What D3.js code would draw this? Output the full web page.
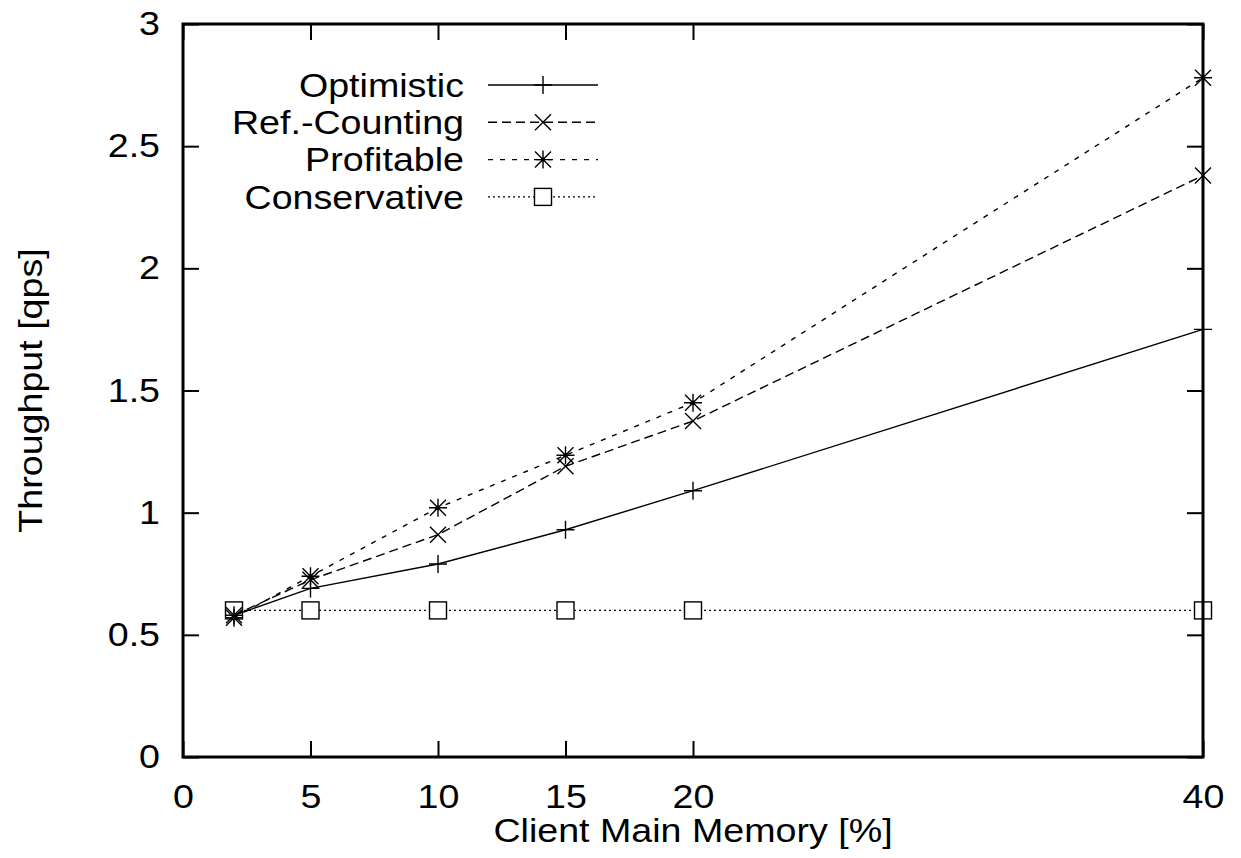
<!DOCTYPE html>
<html>
<head>
<meta charset="utf-8">
<script src="https://cdn.jsdelivr.net/npm/d3@7"></script>
<style>
    html, body { margin: 0; padding: 0; background: #fff; }
    svg { display: block; }
</style>
</head>
<body>
<div id="chart"></div>
<script>
/**
 * Values
 */
const memoryPercent = [2, 5, 10, 15, 20, 40];
const optimistic = [0.58, 0.69, 0.79, 0.93, 1.09, 1.75];
const refCounting = [0.58, 0.725, 0.91, 1.19, 1.375, 2.38];
const profitable = [0.57, 0.74, 1.02, 1.235, 1.45, 2.78];
const conservative = [0.6, 0.6, 0.6, 0.6, 0.6, 0.6];

const seriesNames = ["Optimistic", "Ref.-Counting", "Profitable", "Conservative"];
const xTickValues = [0, 5, 10, 15, 20, 40];
const yTickValues = [0, 0.5, 1, 1.5, 2, 2.5, 3];

const xTitle = "Client Main Memory [%]";
const yTitle = "Throughput [qps]";

const width = 1241;
const height = 858;
const margin = { top: 24, right: 38, bottom: 101, left: 183 };
const fontFamily = "'Liberation Sans', Arial, Helvetica, sans-serif";
const fontSize = 33;

// the original text is a bit wider than Arial at the same height
const textStretch = 1.14;

/**
 * Line styles, one per series (gnuplot style dashes)
 */
const seriesStyles = [
    { dash: null, marker: "plus" },
    { dash: "9,5", marker: "cross" },
    { dash: "5,7", marker: "star" },
    { dash: "2,3", marker: "square" },
];

const seriesValues = [optimistic, refCounting, profitable, conservative];

const series = seriesNames.map((name, i) => ({
    name,
    ...seriesStyles[i],
    points: memoryPercent.map((x, j) => ({ x, y: seriesValues[i][j] })),
}));

const x = d3
    .scaleLinear()
    .domain([0, 40])
    .range([margin.left, width - margin.right]);

const y = d3
    .scaleLinear()
    .domain([0, 3])
    .range([height - margin.bottom, margin.top]);

const svg = d3
    .select("#chart")
    .append("svg")
    .attr("width", width)
    .attr("height", height)
    .attr("font-family", fontFamily)
    .attr("font-size", fontSize);

/**
 * Stretch text horizontally around its own x anchor
 * @param {Object} sel - d3 selection of text elements
 */
const stretchText = (sel) => {
    sel.each(function () {
        const t = d3.select(this);
        const tx = +t.attr("x") || 0;
        t.attr("transform", `translate(${tx * (1 - textStretch)},0) scale(${textStretch},1)`);
    });
};

/**
 * Draw a point marker into a selection at (cx, cy)
 * @param {Object} g - d3 selection
 * @param {String} type
 * @param {Number} cx
 * @param {Number} cy
 */
const drawMarker = (g, type, cx, cy) => {
    const m = g
        .append("g")
        .attr("transform", `translate(${cx},${cy})`)
        .attr("stroke", "#000")
        .attr("stroke-width", 1.4)
        .attr("fill", "none");

    const plus = () => {
        m.append("path").attr("d", "M-9,0H9M0,-9V9");
    };
    const cross = (s) => {
        m.append("path").attr("d", `M${-s},${-s}L${s},${s}M${-s},${s}L${s},${-s}`);
    };

    if (type === "plus") plus();
    if (type === "cross") cross(8);
    if (type === "star") {
        plus();
        cross(8);
        m.append("circle").attr("r", 2.2).attr("fill", "#000").attr("stroke", "none");
    }
    if (type === "square") {
        m.append("rect")
            .attr("x", -8.5)
            .attr("y", -8.5)
            .attr("width", 17)
            .attr("height", 17)
            .attr("fill", "#fff");
    }
};

// Axes: ticks point inward, labels only on bottom and left
const tickLen = -16;

const styleAxis = (g) => {
    g.select(".domain").remove();
    g.selectAll(".tick line").attr("stroke", "#000").attr("stroke-width", 2);
    g.selectAll(".tick text")
        .attr("fill", "#000")
        .attr("font-family", fontFamily)
        .attr("font-size", fontSize)
        .call(stretchText);
};

svg.append("g")
    .attr("transform", `translate(0,${height - margin.bottom})`)
    .call(
        d3.axisBottom(x)
            .tickValues(xTickValues)
            .tickFormat((d) => `${d}`)
            .tickSize(tickLen)
            .tickPadding(27.5),
    )
    .call(styleAxis);

svg.append("g")
    .attr("transform", `translate(0,${margin.top})`)
    .call(d3.axisTop(x).tickValues(xTickValues).tickSize(tickLen).tickFormat(""))
    .call(styleAxis);

svg.append("g")
    .attr("transform", `translate(${margin.left},0)`)
    .call(
        d3.axisLeft(y)
            .tickValues(yTickValues)
            .tickFormat((d) => `${d}`)
            .tickSize(tickLen)
            .tickPadding(23),
    )
    .call(styleAxis);

svg.append("g")
    .attr("transform", `translate(${width - margin.right},0)`)
    .call(d3.axisRight(y).tickValues(yTickValues).tickSize(tickLen).tickFormat(""))
    .call(styleAxis);

// Series lines and markers
const line = d3
    .line()
    .x((d) => x(d.x))
    .y((d) => y(d.y));

// draw in reverse order so Optimistic ends on top
series
    .slice()
    .reverse()
    .forEach((s) => {
        svg.append("path")
            .datum(s.points)
            .attr("d", line)
            .attr("fill", "none")
            .attr("stroke", "#000")
            .attr("stroke-width", 1.4)
            .attr("stroke-dasharray", s.dash);

        const markers = svg.append("g");
        s.points.forEach((p) => drawMarker(markers, s.marker, x(p.x), y(p.y)));
    });

// Frame
svg.append("rect")
    .attr("x", margin.left)
    .attr("y", margin.top)
    .attr("width", width - margin.left - margin.right)
    .attr("height", height - margin.top - margin.bottom)
    .attr("fill", "none")
    .attr("stroke", "#000")
    .attr("stroke-width", 3);

// Legend
const legend = svg.append("g");
const legendTextX = 464;
const legendLine = [488, 598];
const legendY0 = 85;
const legendStep = 37.3;

series.forEach((s, i) => {
    const ly = legendY0 + i * legendStep;

    legend.append("text")
        .attr("x", legendTextX)
        .attr("y", ly)
        .attr("dy", "0.36em")
        .attr("text-anchor", "end")
        .text(s.name)
        .call(stretchText);

    legend.append("line")
        .attr("x1", legendLine[0])
        .attr("x2", legendLine[1])
        .attr("y1", ly)
        .attr("y2", ly)
        .attr("stroke", "#000")
        .attr("stroke-width", 1.4)
        .attr("stroke-dasharray", s.dash);

    drawMarker(legend, s.marker, (legendLine[0] + legendLine[1]) / 2, ly);
});

// Axis titles
svg.append("text")
    .attr("x", (x.range()[0] + x.range()[1]) / 2)
    .attr("y", 842)
    .attr("text-anchor", "middle")
    .text(xTitle)
    .call(stretchText);

svg.append("text")
    .attr(
        "transform",
        `translate(42,${(y.range()[0] + y.range()[1]) / 2}) rotate(-90) scale(${textStretch},1)`,
    )
    .attr("text-anchor", "middle")
    .text(yTitle);
</script>
</body>
</html>
